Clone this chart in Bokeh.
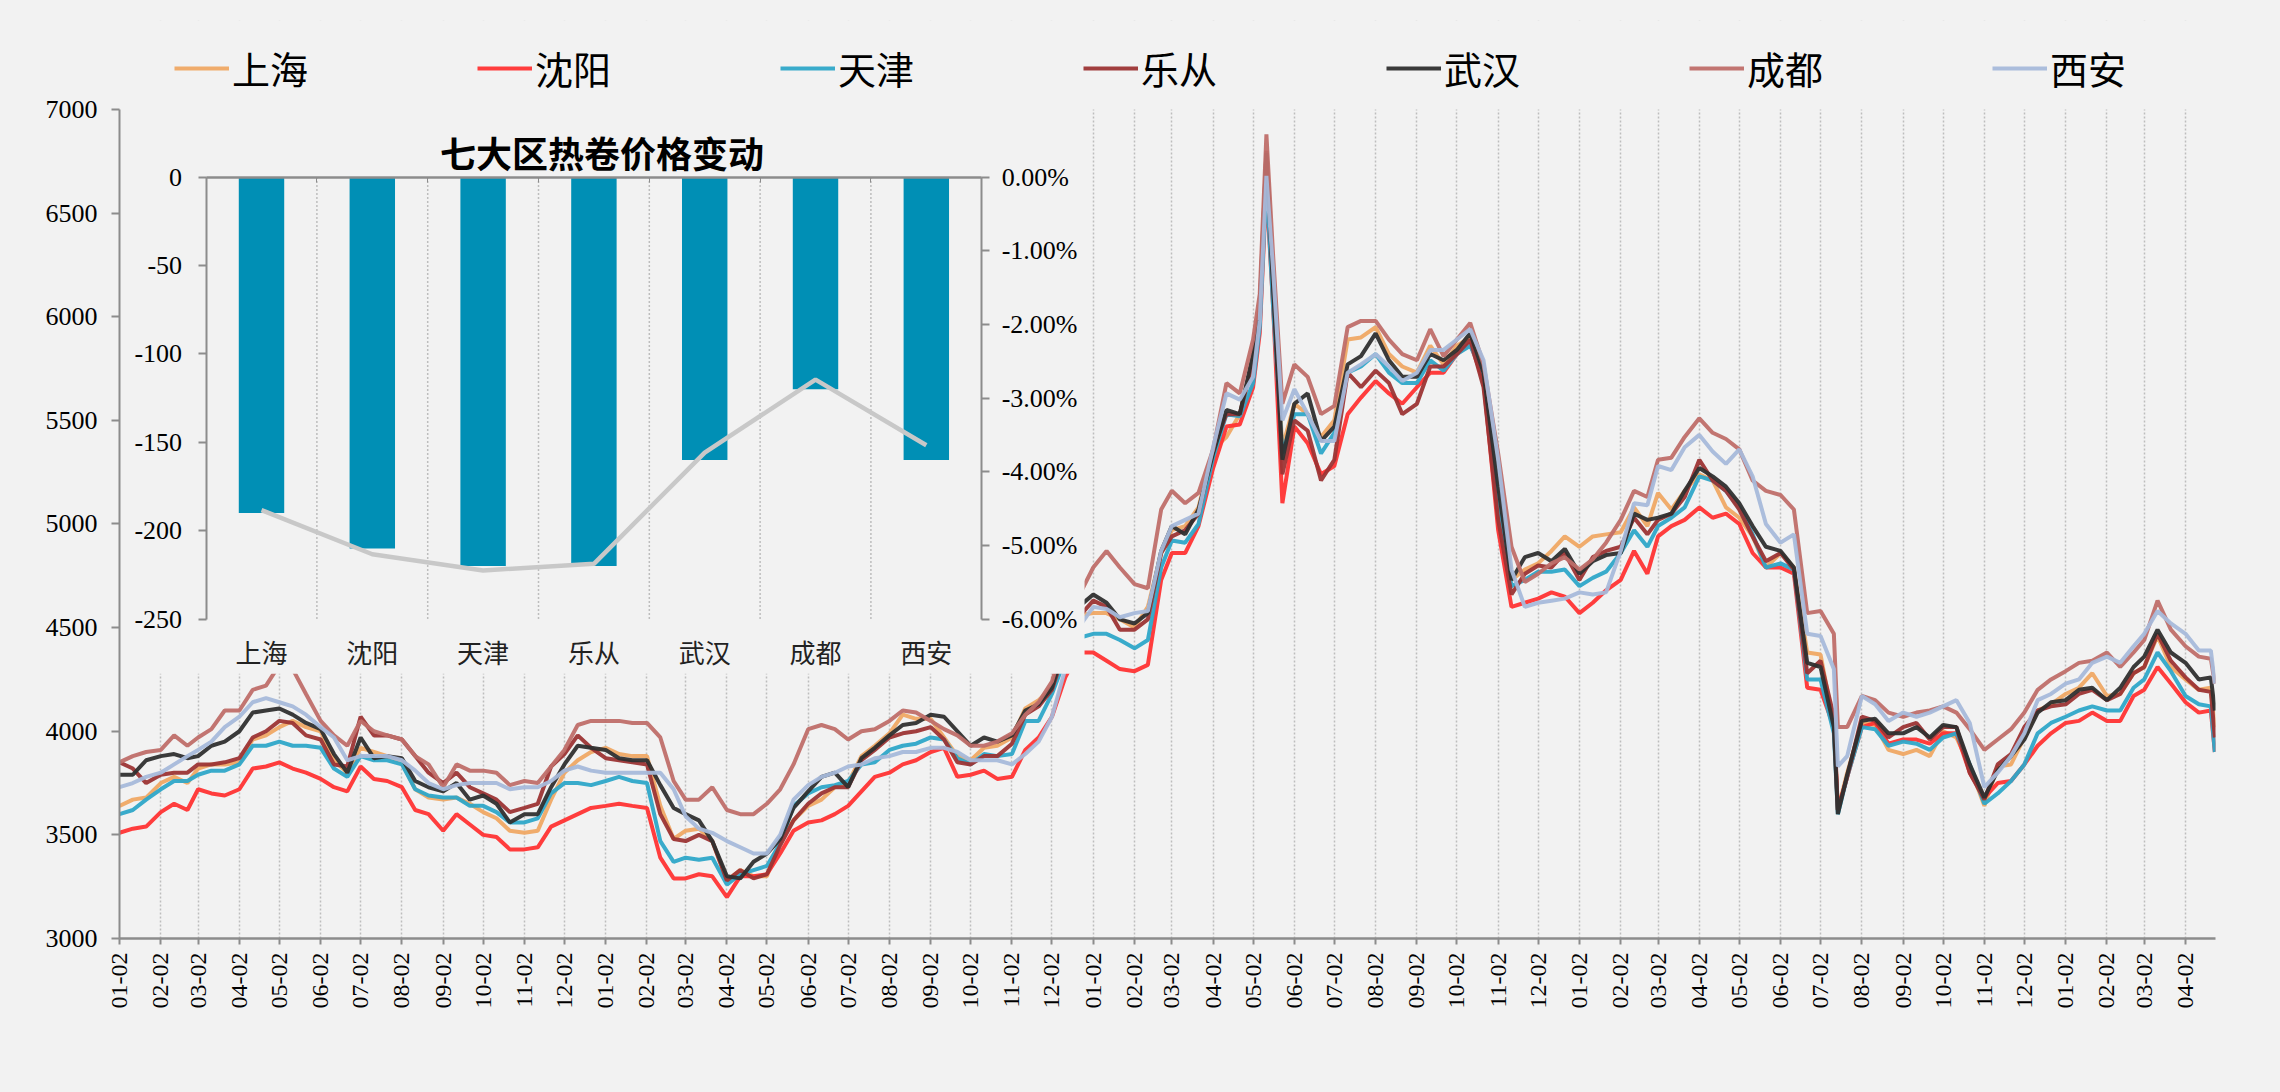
import math
import pandas as pd
from bokeh.plotting import figure
from bokeh.models import (Range1d, LinearAxis, FixedTicker, DatetimeTickFormatter,
                          NumeralTickFormatter, Label, Legend, LegendItem)
from bokeh.embed import file_html
from bokeh.resources import INLINE

# ---------------- data ----------------
SERIES_NAMES = ["上海", "沈阳", "天津", "乐从", "武汉", "成都", "西安"]

# sampling days per month (extra points around sharp moves)
SPECIAL_DAYS = {"2021-05": (2, 7, 12, 17, 24), "2022-07": (2, 12, 15, 22), "2023-04": (2, 12, 21, 24)}
DEFAULT_DAYS = (2, 12, 22)

SH = [3640,3670,3680, 3750,3780,3750, 3820,3840,3840, 3850,3960,3980, 4020,4050,4020, 4000,3860,3800, 3920,3900,3880, 3850,3720,3680, 3670,3680,3650, 3610,3580,3520, 3510,3520,3670, 3800,3860,3900,
      3920,3890,3880, 3880,3640,3480, 3520,3530,3470, 3280,3330,3300, 3300,3470,3570, 3640,3670,3730, 3750,3880,3930, 3990,4080,4060, 4060,3970,3880, 3860,3920,3930, 3970,4110,4150, 4210,4450,4560,
      4570,4570,4540, 4500,4600,4860, 4970,4990,5080, 5360,5420,5530, 5790,5980,6720,6110,5370, 5580,5530,5420, 5500,5890,5900, 5950,5820,5760, 5730,5860,5770, 5860,5900,5760, 5100,4730,4780, 4810,4870,4940,
      4890,4940,4950, 4960,5080,4990, 5150,5070,5160, 5240,5210,5080, 5030,4940,4790, 4860,4790,4380, 4370,4030,3620,3800, 4040,4030,3910, 3890,3910,3880, 4000,3970,3830, 3640,3830,3840, 3970,4100,4130,
      4180,4210,4280, 4170,4180,4280, 4310,4460,4310, 4250,4200,4210,4020]
SY = [3510,3530,3540, 3610,3650,3620, 3720,3700,3690, 3720,3820,3830, 3850,3820,3800, 3770,3730,3710, 3830,3770,3760, 3730,3620,3600, 3520,3600,3550, 3500,3490,3430, 3430,3440,3540, 3570,3600,3630,
      3640,3650,3640, 3630,3390,3290, 3290,3310,3300, 3200,3300,3300, 3310,3410,3520, 3560,3570,3600, 3640,3710,3780, 3800,3840,3860, 3900,3920,3780, 3790,3810,3770, 3780,3910,3970, 4070,4260,4380,
      4380,4340,4300, 4290,4320,4730, 4860,4860,4990, 5270,5470,5480, 5660,5920,6630,6050,5100, 5470,5390,5240, 5280,5530,5610, 5690,5630,5580, 5660,5730,5730, 5820,5870,5690, 4970,4600,4620, 4640,4670,4650,
      4570,4620,4680, 4730,4870,4760, 4940,4990,5020, 5080,5030,5050, 5000,4860,4790, 4790,4760,4210, 4200,4020,3620,3780, 4020,4040,3940, 3960,3960,3940, 3990,3990,3800, 3680,3750,3760, 3840,3930,3990,
      4040,4050,4090, 4050,4050,4170, 4200,4310,4230, 4140,4090,4100,3900]
TJ = [3600,3620,3670, 3720,3760,3760, 3790,3810,3810, 3840,3930,3930, 3950,3930,3930, 3920,3820,3780, 3880,3860,3860, 3840,3720,3690, 3680,3680,3640, 3640,3610,3560, 3560,3580,3700, 3750,3750,3740,
      3760,3780,3760, 3750,3470,3370, 3390,3380,3390, 3260,3310,3330, 3350,3460,3640, 3700,3730,3740, 3760,3840,3850, 3910,3930,3940, 3970,3960,3870, 3840,3890,3880, 3890,4050,4050, 4180,4350,4450,
      4470,4470,4440, 4400,4440,4790, 4920,4910,5000, 5320,5530,5520, 5680,5950,6660,6050,5340, 5530,5530,5340, 5440,5730,5760, 5820,5730,5680, 5680,5790,5740, 5820,5860,5730, 5100,4700,4730, 4770,4770,4780,
      4700,4740,4770, 4860,4970,4890, 4990,5030,5080, 5230,5210,5160, 5080,4950,4790, 4810,4780,4250, 4250,3990,3600,3780, 4020,4010,3930, 3950,3940,3910, 3970,3990,3840, 3650,3700,3760, 3840,3990,4040,
      4070,4100,4120, 4100,4100,4210, 4250,4380,4290, 4170,4130,4120,3900]
LC = [3850,3820,3750, 3790,3800,3800, 3840,3840,3850, 3870,3970,4000, 4050,4040,3980, 3960,3840,3830, 4070,3980,3980, 3960,3880,3800, 3750,3800,3730, 3700,3670,3610, 3630,3650,3830, 3890,3980,3920,
      3870,3860,3850, 3840,3600,3480, 3470,3500,3470, 3280,3330,3290, 3310,3450,3570, 3650,3700,3730, 3730,3860,3910, 3970,3990,4000, 4020,3960,3850, 3840,3880,3880, 3940,4080,4120, 4200,4400,4550,
      4630,4600,4490, 4490,4540,4860, 4940,4970,5050, 5360,5530,5530, 5790,6050,6800,6180,5240, 5500,5450,5210, 5310,5730,5660, 5740,5680,5530, 5580,5760,5760, 5820,5890,5660, 5020,4660,4760, 4800,4790,4860,
      4730,4840,4870, 4890,5030,4950, 5020,5050,5130, 5310,5210,5160, 5070,4940,4820, 4860,4780,4280, 4340,4070,3620,3780, 4070,4050,3970, 4020,4040,3960, 4020,4020,3800, 3670,3840,3890, 4020,4100,4120,
      4130,4180,4200, 4150,4180,4280, 4310,4470,4340, 4260,4200,4190,3970]
WH = [3790,3790,3860, 3880,3890,3870, 3880,3930,3950, 4000,4090,4100, 4110,4080,4040, 4010,3890,3800, 3970,3870,3880, 3870,3760,3730, 3710,3750,3670, 3690,3650,3560, 3600,3600,3730, 3840,3930,3920,
      3910,3870,3860, 3860,3740,3630, 3600,3570,3470, 3300,3290,3370, 3410,3480,3630, 3710,3780,3800, 3730,3870,3920, 3980,4030,4040, 4080,4070,4000, 3930,3970,3950, 3980,4100,4130, 4210,4420,4600,
      4660,4620,4540, 4520,4570,4870, 4990,4950,5070, 5340,5550,5530, 5820,6020,6790,6140,5310, 5580,5630,5400, 5470,5770,5810, 5920,5790,5710, 5710,5820,5790, 5840,5920,5730, 5180,4730,4840, 4860,4820,4880,
      4760,4820,4850, 4860,5050,5020, 5030,5050,5160, 5270,5230,5180, 5100,4990,4890, 4870,4790,4330, 4310,4020,3600,3790, 4050,4060,3990, 3990,4020,3970, 4030,4020,3840, 3680,3810,3880, 3960,4090,4140,
      4150,4200,4210, 4150,4210,4310, 4360,4490,4380, 4330,4250,4260,4100]
CD = [3850,3880,3900, 3910,3980,3930, 3970,4010,4100, 4100,4200,4220, 4320,4300,4180, 4050,3980,3930, 4050,4000,3980, 3960,3880,3840, 3730,3840,3810, 3810,3800,3740, 3760,3750,3830, 3910,4030,4050,
      4050,4050,4040, 4040,3970,3760, 3670,3670,3730, 3620,3600,3600, 3650,3720,3840, 4010,4030,4010, 3960,4000,4010, 4050,4100,4090, 4050,4010,3980, 3930,3930,3950, 3990,4080,4140, 4240,4450,4650,
      4790,4870,4790, 4710,4690,5070, 5160,5100,5150, 5360,5680,5630, 5890,6110,6880,6300,5580, 5770,5710,5530, 5570,5950,5980, 5980,5890,5820, 5790,5940,5810, 5890,5970,5770, 5340,4890,4720, 4760,4810,4840,
      4780,4830,4910, 5020,5160,5130, 5310,5320,5420, 5510,5440,5410, 5360,5210,5160, 5140,5070,4570, 4580,4470,4020,4020, 4170,4150,4090, 4070,4090,4100, 4120,4090,4010, 3910,3960,4010, 4090,4200,4250,
      4290,4330,4340, 4380,4310,4380, 4440,4630,4490, 4410,4360,4350,4230]
XA = [3730,3750,3780, 3800,3840,3880, 3910,3950,4020, 4070,4140,4160, 4140,4120,4080, 4020,3970,3860, 3880,3880,3880, 3860,3810,3750, 3720,3740,3750, 3750,3750,3720, 3730,3730,3760, 3810,3830,3810,
      3800,3800,3800, 3800,3800,3720, 3590,3530,3510, 3470,3440,3410, 3410,3500,3670, 3740,3780,3800, 3830,3840,3870, 3880,3900,3900, 3920,3920,3900, 3860,3860,3860, 3840,3890,3950, 4070,4300,4500,
      4600,4590,4550, 4570,4580,4870, 4990,5020,5050, 5370,5630,5600, 5710,5980,6680,6230,5500, 5650,5530,5400, 5400,5730,5770, 5820,5760,5690, 5730,5840,5840, 5890,5940,5790, 5310,4780,4600, 4620,4630,4640,
      4670,4660,4670, 4870,5100,5090, 5280,5260,5370, 5430,5350,5290, 5360,5230,5000, 4910,4950,4470, 4460,4300,3830,3880, 4170,4130,4050, 4090,4070,4090, 4120,4150,4040, 3730,3800,3880, 3990,4150,4180,
      4230,4250,4330, 4360,4330,4410, 4470,4580,4520, 4470,4390,4390,4230]

Y_TICKS = [3000, 3500, 4000, 4500, 5000, 5500, 6000, 6500, 7000]

# inset: 七大区热卷价格变动
INSET_TITLE = "七大区热卷价格变动"
REGIONS = ["上海", "沈阳", "天津", "乐从", "武汉", "成都", "西安"]
CHANGE = [-190, -210, -220, -220, -160, -120, -160]
CHANGE_PCT = [-0.0452, -0.0512, -0.0534, -0.0525, -0.0374, -0.0275, -0.0364]
INSET_LEFT_TICKS = [0, -50, -100, -150, -200, -250]
INSET_RIGHT_TICKS = [0, -0.01, -0.02, -0.03, -0.04, -0.05, -0.06]

# ---------------- dates ----------------
dates = []
for yr in range(2019, 2024):
    for mo in range(1, 13):
        if (yr, mo) > (2023, 4):
            break
        for d in SPECIAL_DAYS.get(f"{yr}-{mo:02d}", DEFAULT_DAYS):
            dates.append(pd.Timestamp(yr, mo, d))
for s in (SH, SY, TJ, LC, WH, CD, XA):
    assert len(s) == len(dates), (len(s), len(dates))

month_ticks = [pd.Timestamp(yr, mo, 2) for yr in range(2019, 2024) for mo in range(1, 13)
               if (yr, mo) <= (2023, 4)]
tick_ms = [t.value / 1e6 for t in month_ticks]

# ---------------- styles / layout ----------------
COLORS = ["#EFA864", "#FF3333", "#2EA6C8", "#9C3434", "#2F2F2F", "#BF6E69", "#A6B9DA"]
BG = "#F2F2F2"
AXIS_GRAY = "#8C8C8C"
SERIF = "Liberation Serif"
CJK = "Noto Sans CJK SC"

X_START, X_END = pd.Timestamp("2019-01-02"), pd.Timestamp("2023-04-24 12:00")
Y_MIN, Y_TOP_TICK = 3000, 7000
Y_MAX = 7429.4   # frame extends above the 7000 tick to host the legend

W, H = 2280, 1090
p = figure(width=W, height=H, x_axis_type="datetime", output_backend="svg", toolbar_location=None,
           x_range=Range1d(X_START, X_END), y_range=Range1d(Y_MIN, Y_MAX),
           min_border_left=119, min_border_right=65, min_border_top=20, min_border_bottom=152,
           background_fill_color=BG, border_fill_color=BG, outline_line_color=None)

# inset coordinate systems, expressed relative to the main frame
IX = (-1.2816, 17.635)       # category slots
IY = (-430.6, 88.50)         # price change (yuan)
IP = (-0.10335, 0.021241)    # percent change
p.extra_x_ranges = {"ix": Range1d(*IX)}
p.extra_y_ranges = {"iy": Range1d(*IY), "ip": Range1d(*IP)}

# main axes
p.yaxis.ticker = FixedTicker(ticks=Y_TICKS)
p.yaxis.bounds = (Y_MIN, Y_TOP_TICK)
p.yaxis.major_label_text_font = SERIF
p.yaxis.major_label_text_font_size = "26px"
p.yaxis.major_label_text_color = "#000000"
p.yaxis.axis_line_color = AXIS_GRAY
p.yaxis.axis_line_width = 2
p.yaxis.major_tick_line_color = AXIS_GRAY
p.yaxis.major_tick_line_width = 2
p.yaxis.major_tick_out = 8
p.yaxis.major_tick_in = 0
p.yaxis.minor_tick_line_color = None
p.yaxis.major_label_standoff = 14

fmt = "%m-%d"
p.xaxis.ticker = FixedTicker(ticks=tick_ms)
p.xaxis.formatter = DatetimeTickFormatter(microseconds=fmt, milliseconds=fmt, seconds=fmt, minsec=fmt,
                                          minutes=fmt, hourmin=fmt, hours=fmt, days=fmt, months=fmt, years=fmt)
p.xaxis.major_label_orientation = math.pi / 2
p.xaxis.major_label_text_font = SERIF
p.xaxis.major_label_text_font_size = "24px"
p.xaxis.major_label_text_color = "#000000"
p.xaxis.axis_line_color = AXIS_GRAY
p.xaxis.axis_line_width = 2.5
p.xaxis.major_tick_line_color = AXIS_GRAY
p.xaxis.major_tick_line_width = 2
p.xaxis.major_tick_out = 6
p.xaxis.major_tick_in = 0
p.xaxis.minor_tick_line_color = None
p.xaxis.major_label_standoff = 8

p.xgrid.ticker = FixedTicker(ticks=tick_ms)
p.xgrid.grid_line_color = "#BDBDBD"
p.xgrid.grid_line_dash = "2 2"
p.xgrid.grid_line_width = 1.5
p.ygrid.visible = False

# mask grid lines above the 7000 tick
p.quad(left=[X_START], right=[X_END], bottom=[Y_TOP_TICK], top=[Y_MAX], fill_color=BG, line_color=None)

# main lines
items = []
for name, vals, col in zip(SERIES_NAMES, (SH, SY, TJ, LC, WH, CD, XA), COLORS):
    r = p.line(dates, vals, line_color=col, line_width=4, line_alpha=0.95)
    items.append(LegendItem(label=name, renderers=[r]))

# ---------------- inset ----------------
BOX_RIGHT = 7.428
BOX_BOTTOM = -280.9
p.quad(left=[IX[0]], right=[BOX_RIGHT], bottom=[BOX_BOTTOM], top=[IY[1]],
       x_range_name="ix", y_range_name="iy", fill_color=BG, line_color=None)

idx = list(range(len(REGIONS)))
p.segment(x0=[i + 0.5 for i in idx[:-1]], y0=[INSET_LEFT_TICKS[0]] * (len(idx) - 1),
          x1=[i + 0.5 for i in idx[:-1]], y1=[INSET_LEFT_TICKS[-1]] * (len(idx) - 1),
          x_range_name="ix", y_range_name="iy", line_color="#BDBDBD", line_dash="2 2", line_width=1.5)
p.vbar(x=idx, width=0.41, top=0, bottom=CHANGE, x_range_name="ix", y_range_name="iy",
       fill_color="#008FB5", line_color=None)
p.line(idx, CHANGE_PCT, x_range_name="ix", y_range_name="ip", line_color="#C8C8C8", line_width=4.5)

lo, hi = -0.5, len(REGIONS) - 0.5

ax_l = LinearAxis(x_range_name="ix", y_range_name="iy", fixed_location=lo,
                  bounds=(INSET_LEFT_TICKS[-1], INSET_LEFT_TICKS[0]),
                  ticker=FixedTicker(ticks=INSET_LEFT_TICKS),
                  formatter=NumeralTickFormatter(format="0"))
ax_r = LinearAxis(x_range_name="ix", y_range_name="ip", fixed_location=hi,
                  bounds=(INSET_RIGHT_TICKS[-1], INSET_RIGHT_TICKS[0]),
                  ticker=FixedTicker(ticks=INSET_RIGHT_TICKS),
                  formatter=NumeralTickFormatter(format="0.00%"))
for ax, standoff in ((ax_l, 16), (ax_r, 12)):
    ax.axis_line_color = AXIS_GRAY
    ax.axis_line_width = 2
    ax.major_tick_line_color = AXIS_GRAY
    ax.major_tick_line_width = 2
    ax.major_tick_out = 8
    ax.major_tick_in = 0
    ax.minor_tick_line_color = None
    ax.major_label_text_font = SERIF
    ax.major_label_text_font_size = "26px"
    ax.major_label_text_color = "#000000"
    ax.major_label_standoff = standoff
p.add_layout(ax_l, "left")
p.add_layout(ax_r, "right")

ax_zero = LinearAxis(x_range_name="ix", y_range_name="iy", fixed_location=0, bounds=(lo, hi),
                     ticker=FixedTicker(ticks=[i - 0.5 for i in range(len(REGIONS) + 1)]))
ax_zero.axis_line_color = AXIS_GRAY
ax_zero.axis_line_width = 2.5
ax_zero.major_tick_line_color = AXIS_GRAY
ax_zero.major_tick_out = 5
ax_zero.major_tick_in = 0
ax_zero.minor_tick_line_color = None
ax_zero.major_label_text_alpha = 0
p.add_layout(ax_zero, "below")

ax_cat = LinearAxis(x_range_name="ix", y_range_name="iy", fixed_location=INSET_LEFT_TICKS[-1], bounds=(lo, hi),
                    ticker=FixedTicker(ticks=idx),
                    major_label_overrides={i: r for i, r in zip(idx, REGIONS)})
ax_cat.axis_line_color = None
ax_cat.major_tick_line_color = None
ax_cat.minor_tick_line_color = None
ax_cat.major_label_text_font = CJK
ax_cat.major_label_text_font_size = "26px"
ax_cat.major_label_text_color = "#222222"
ax_cat.major_label_standoff = 8
p.add_layout(ax_cat, "below")

p.add_layout(Label(x=(IX[0] + BOX_RIGHT) / 2, y=14.0, x_range_name="ix", y_range_name="iy",
                   text=INSET_TITLE, text_align="center", text_baseline="middle",
                   text_font=CJK, text_font_size="36px", text_font_style="bold", text_color="#000000"))

# legend across the top, inside the (extended) frame
lg = Legend(items=items, location=(55, 843), orientation="horizontal",
            background_fill_alpha=0, border_line_alpha=0,
            label_text_font=CJK, label_text_font_size="38px", label_text_color="#000000",
            glyph_width=55, glyph_height=30, label_standoff=3, label_width=245,
            spacing=0, padding=0, margin=0)
p.add_layout(lg, "center")

html = file_html(p, INLINE, title="七大区热卷价格")
html = html.replace("<head>", "<head><style>html,body{background:#F2F2F2;}</style>", 1)
open("out.html", "w").write(html)
